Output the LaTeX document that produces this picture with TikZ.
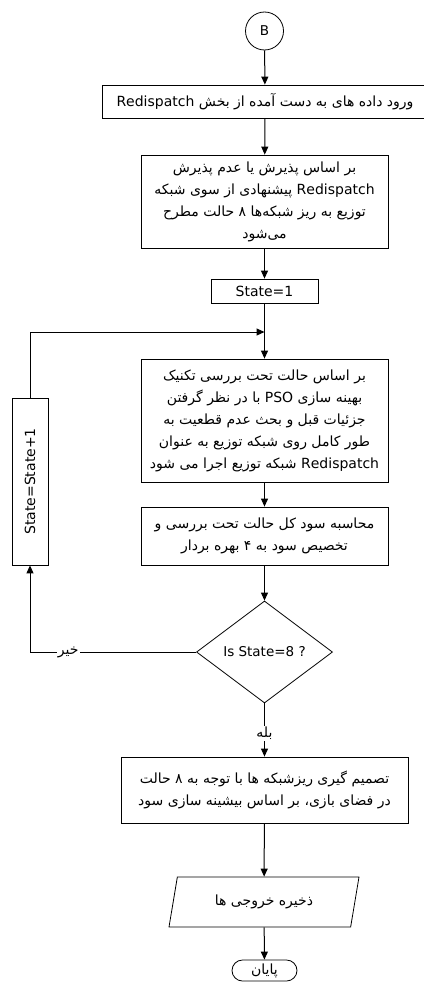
\documentclass[tikz,border=0pt]{standalone}
\usepackage{fontspec}
\setmainfont{DejaVu Sans}
\newfontfamily\fa[Script=Arabic]{DejaVu Sans}
\TeXXeTstate=1
\usetikzlibrary{arrows.meta,shapes.geometric}
\tikzset{
  base/.style={draw=black, line width=0.8pt, inner sep=1pt, align=center, text=black},
  box/.style={base, rectangle, font=\fa\fontsize{14}{22}\selectfont},
  conn/.style={line width=1pt, -{Triangle[length=8pt,width=7pt]}},
  lbl/.style={fill=white, inner sep=1pt, font=\fa\fontsize{14}{16}\selectfont},
}
\begin{document}
\begin{tikzpicture}[x=1pt,y=-1pt]
\useasboundingbox (0,0) rectangle (423,982);
\node[base, circle, minimum size=38pt, font=\fontsize{13.5}{15}\selectfont] (B) at (264.5,31) {B};
\node[box, minimum width=326pt, minimum height=33pt] (in) at (265,101.5)
  {\beginR ورود داده های به دست آمده از بخش \beginL Redispatch\endL\endR};
\node[box, minimum width=247pt, minimum height=93pt] (acc) at (264.5,201.5)
  {\beginR بر اساس پذیرش یا عدم پذیرش\endR\\
   \beginR\beginL Redispatch\endL{} پیشنهادی از سوی شبکه\endR\\
   \beginR توزیع به ریز شبکه‌ها ۸ حالت مطرح\endR\\
   \beginR می‌شود\endR};
\node[box, minimum width=107pt, minimum height=24pt] (s1) at (264.5,291) {State=1};
\coordinate (j) at (264.5,332);
\node[box, minimum width=247pt, minimum height=123pt] (pso) at (264.5,420.5)
  {\beginR بر اساس حالت تحت بررسی تکنیک\endR\\
   \beginR بهینه سازی \beginL PSO\endL{} با در نظر گرفتن\endR\\
   \beginR جزئیات قبل و بحث عدم قطعیت به\endR\\
   \beginR طور کامل روی شبکه توزیع به عنوان\endR\\
   \beginR\beginL Redispatch\endL{} شبکه توزیع اجرا می شود\endR};
\node[box, minimum width=247pt, minimum height=58pt] (prof) at (264.5,536)
  {\beginR محاسبه سود کل حالت تحت بررسی و\endR\\
   \beginR تخصیص سود به ۴ بهره بردار\endR};
\node[base, diamond, aspect=1.33, minimum width=136pt, minimum height=102pt, inner sep=0pt, font=\fontsize{13.5}{15}\selectfont] (dec) at (264.5,652) {Is State=8 ?};
\node[box, rotate=90, minimum width=167pt, minimum height=36pt] (inc) at (30,481.5) {State=State+1};
\node[box, minimum width=287pt, minimum height=66pt] (res) at (264.5,790)
  {\beginR تصمیم گیری ریزشبکه ها با توجه به ۸ حالت\endR\\
   \beginR در فضای بازی، بر اساس بیشینه سازی سود\endR};
\node[box, trapezium, trapezium left angle=62.5, trapezium right angle=117.5,
      trapezium stretches body, minimum width=190pt, minimum height=50pt] (out) at (264,902)
  {\beginR ذخیره خروجی ها\endR};
\node[box, rounded corners=10.5pt, minimum width=65pt, minimum height=21pt] (end) at (264.5,970.5)
  {\beginR پایان\endR};
\draw[conn] (B) -- (in);
\draw[conn] (in) -- (acc);
\draw[conn] (acc) -- (s1);
\draw[conn] (s1) -- (pso);
\draw[conn] (pso) -- (prof);
\draw[conn] (prof) -- (dec);
\draw[conn] (dec.south) -- node[lbl, pos=0.56] {\beginR بله\endR} (res.north);
\draw[conn] (res) -- (out);
\draw[conn] (out) -- (end);
\draw[conn] (dec.west) -- node[lbl, pos=0.77] {\beginR خیر\endR} (inc.west |- dec.west) -- (inc.west);
\draw[conn] (inc.east) -- (inc.east |- j) -- (j);
\end{tikzpicture}
\end{document}
